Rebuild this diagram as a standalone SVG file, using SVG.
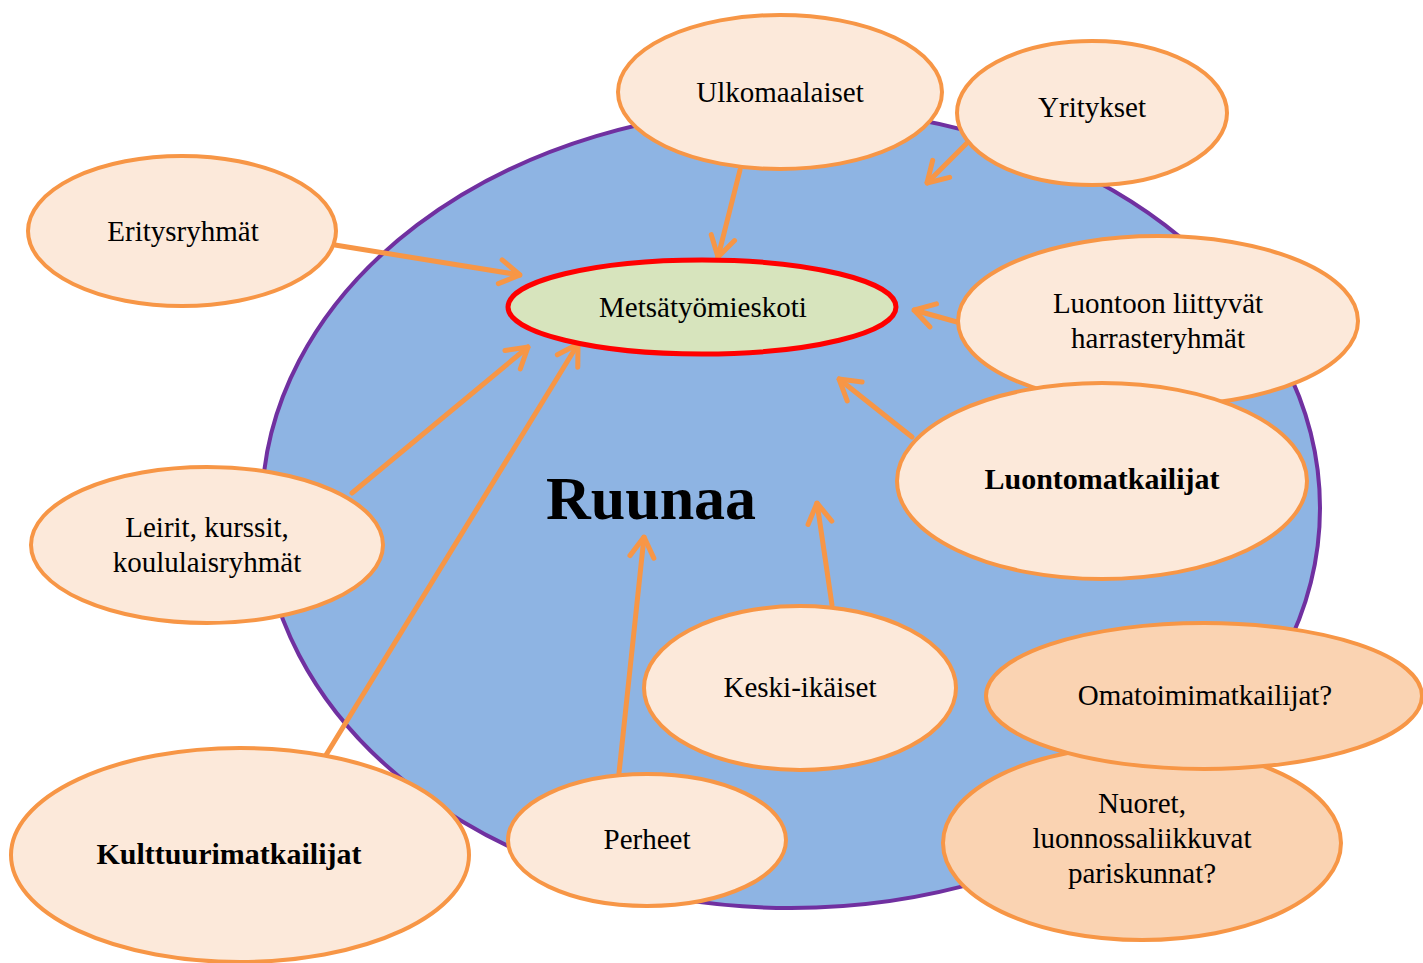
<svg xmlns="http://www.w3.org/2000/svg" width="1423" height="963" viewBox="0 0 1423 963">
<style>
.n{fill:#FCE9DA;stroke:#F79646;stroke-width:4}
.d{fill:#FAD3B2;stroke:#F79646;stroke-width:4}
.t{font-family:"Liberation Serif",serif;font-size:29px;fill:#000;text-anchor:middle}
.b{font-weight:bold;font-size:30px}
.c{stroke:#F79646;stroke-width:5;fill:none;stroke-linecap:round;marker-end:url(#ah)}
</style>
<defs>
<marker id="ah" markerUnits="userSpaceOnUse" viewBox="0 0 30 30" refX="28" refY="15" markerWidth="30" markerHeight="30" orient="auto">
<path d="M8,3 L28,15 L8,27" fill="none" stroke="#F79646" stroke-width="5" stroke-linecap="round" stroke-linejoin="miter"/>
</marker>
</defs>
<rect width="1423" height="963" fill="#fff"/>
<g id="ruunaa">
<ellipse cx="791" cy="508" rx="529" ry="400" fill="#8EB4E3" stroke="#7030A0" stroke-width="4"/>
<text x="651" y="519" font-family="Liberation Serif,serif" font-size="62" font-weight="bold" text-anchor="middle">Ruunaa</text>
</g>
<g id="connectors">
<line class="c" x1="335" y1="245" x2="520" y2="275"/>
<line class="c" x1="740" y1="170" x2="718" y2="257"/>
<line class="c" x1="968" y1="142" x2="927" y2="183"/>
<line class="c" x1="957" y1="322" x2="914" y2="310"/>
<line class="c" x1="912" y1="437" x2="839" y2="379"/>
<line class="c" x1="352" y1="493" x2="528" y2="347"/>
<line class="c" x1="326" y1="755" x2="578" y2="344"/>
<line class="c" x1="619" y1="773" x2="644" y2="537"/>
<line class="c" x1="832" y1="605" x2="817" y2="503"/>
</g>
<g id="metsatyomieskoti">
<ellipse cx="702" cy="307" rx="194" ry="47" fill="#D7E4BD" stroke="#FF0000" stroke-width="5"/>
<text class="t" x="703" y="317">Metsätyömieskoti</text>
</g>
<g id="ulkomaalaiset">
<ellipse class="n" cx="780" cy="92" rx="162" ry="77"/>
<text class="t" x="780" y="102">Ulkomaalaiset</text>
</g>
<g id="yritykset">
<ellipse class="n" cx="1092" cy="113" rx="135" ry="72"/>
<text class="t" x="1092" y="117">Yritykset</text>
</g>
<g id="eritysryhmat">
<ellipse class="n" cx="182" cy="231" rx="154" ry="75" stroke-width="6"/>
<text class="t" x="183" y="241">Eritysryhmät</text>
</g>
<g id="luontoon">
<ellipse class="n" cx="1158" cy="321" rx="200" ry="85"/>
<text class="t" x="1158" y="313">Luontoon liittyvät</text>
<text class="t" x="1158" y="348">harrasteryhmät</text>
</g>
<g id="luontomatkailijat">
<ellipse class="n" cx="1102" cy="481" rx="205" ry="98"/>
<text class="t b" x="1102" y="489">Luontomatkailijat</text>
</g>
<g id="leirit">
<ellipse class="n" cx="207" cy="545" rx="176" ry="78"/>
<text class="t" x="207" y="537">Leirit, kurssit,</text>
<text class="t" x="207" y="572">koululaisryhmät</text>
</g>
<g id="keski-ikaiset">
<ellipse class="n" cx="800" cy="688" rx="156" ry="82"/>
<text class="t" x="800" y="697">Keski-ikäiset</text>
</g>
<g id="nuoret">
<ellipse class="d" cx="1142" cy="843" rx="199" ry="97"/>
<text class="t" x="1142" y="813">Nuoret,</text>
<text class="t" x="1142" y="848">luonnossaliikkuvat</text>
<text class="t" x="1142" y="883">pariskunnat?</text>
</g>
<g id="omatoimimatkailijat">
<ellipse class="d" cx="1204" cy="696" rx="218" ry="73"/>
<text class="t" x="1205" y="705">Omatoimimatkailijat?</text>
</g>
<g id="kulttuurimatkailijat">
<ellipse class="n" cx="240" cy="855" rx="229" ry="107"/>
<text class="t b" x="229" y="864">Kulttuurimatkailijat</text>
</g>
<g id="perheet">
<ellipse class="n" cx="647" cy="840" rx="139" ry="66"/>
<text class="t" x="647" y="849">Perheet</text>
</g>
</svg>
